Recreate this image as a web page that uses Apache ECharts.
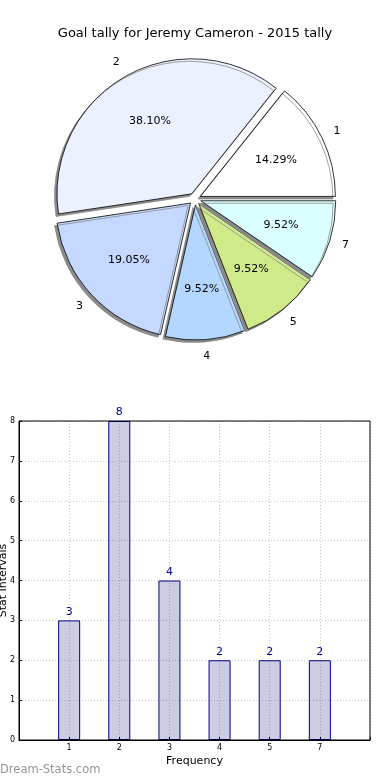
<!DOCTYPE html>
<html><head><meta charset="utf-8">
<script src="https://cdn.jsdelivr.net/npm/echarts@6/dist/echarts.min.js"></script>
<style>html,body{margin:0;padding:0;background:#fff}#c{width:390px;height:780px}</style>
</head><body><div id="c"></div>
<script>
const categories = ['1', '2', '3', '4', '5', '7'];
const goalCounts = [3, 8, 4, 2, 2, 2];
const percentLabels = ['14.29%', '38.10%', '19.05%', '9.52%', '9.52%', '9.52%'];
const sliceColors = ['#ffffff', '#ebf1ff', '#c5d8ff', '#b4d7ff', '#d0ea8a', '#dbffff'];
const yTicks = [0, 1, 2, 3, 4, 5, 6, 7, 8];

const FONT = 'DejaVu Sans';
const R = 135;
const CX = 195, CY = 199;
const OFF = 6;

const pieMain = categories.map((c, i) => ({
  name: c, value: goalCounts[i], selected: true,
  itemStyle: {color: sliceColors[i]}
}));
const pieLabels = categories.map((c, i) => ({name: c, value: goalCounts[i], selected: true}));

const chart = echarts.init(document.getElementById('c'), null, {renderer: 'canvas'});
chart.setOption({
  animation: false,
  title: {
    text: 'Goal tally for Jeremy Cameron - 2015 tally',
    left: 'center', top: 22,
    textStyle: {fontFamily: FONT, fontSize: 13, fontWeight: 'normal', color: '#000'}
  },
  grid: {left: 19, right: 20, top: 421, bottom: 40, containLabel: false, outerBoundsMode: 'none'},
  xAxis: {
    type: 'value', min: 0, max: 7, interval: 1,
    name: 'Frequency', nameLocation: 'middle', nameGap: 16, nameMoveOverlap: false,
    nameTextStyle: {fontFamily: FONT, fontSize: 11, color: '#000'},
    axisLine: {show: true, lineStyle: {color: '#000', width: 1}},
    axisTick: {show: true, inside: true, length: 3, lineStyle: {color: '#000'}},
    axisLabel: {
      fontFamily: FONT, fontSize: 8, color: '#000', margin: 4,
      formatter: v => (v >= 1 && v <= 6) ? categories[v - 1] : ''
    },
    splitLine: {show: true, lineStyle: {color: '#c8c8c8', type: [1, 2], width: 1}}
  },
  yAxis: {
    type: 'value', min: 0, max: 8, interval: 1,
    name: 'Stat Intervals', nameLocation: 'middle', nameGap: 10, nameRotate: 90, nameMoveOverlap: false,
    nameTextStyle: {fontFamily: FONT, fontSize: 11, color: '#000'},
    axisLine: {show: true, lineStyle: {color: '#000', width: 1}},
    axisTick: {show: true, inside: true, length: 3, lineStyle: {color: '#000'}},
    axisLabel: {fontFamily: FONT, fontSize: 8, color: '#000', margin: 4,
      formatter: v => yTicks.includes(v) ? String(v) : ''},
    splitLine: {show: true, lineStyle: {color: '#c8c8c8', type: [1, 2], width: 1}}
  },
  graphic: [
    {type: 'rect', shape: {x: 19, y: 421, width: 351, height: 319}, style: {fill: 'none', stroke: '#000', lineWidth: 1}, z: 10, silent: true},
    {type: 'text', left: 0, top: 764, style: {text: 'Dream-Stats.com', fontFamily: FONT, fontSize: 11.5, fontWeight: 'normal', fill: '#959595'}}
  ],
  series: [
    {
      type: 'pie', center: [CX, CY], radius: [0, R],
      startAngle: 0, clockwise: false,
      selectedMode: 'multiple', selectedOffset: OFF,
      data: pieMain,
      label: {show: false}, labelLine: {show: false},
      itemStyle: {borderColor: '#000', borderWidth: 0.8,
        shadowColor: '#8a8a8a', shadowBlur: 0, shadowOffsetX: -2.5, shadowOffsetY: 2.5},
      emphasis: {disabled: true}, z: 2
    },
    {
      type: 'pie', center: [CX, CY], radius: [R * 0.2, R],
      startAngle: 0, clockwise: false,
      selectedMode: 'multiple', selectedOffset: OFF,
      data: pieLabels.map(d => Object.assign({}, d)),
      itemStyle: {color: 'rgba(0,0,0,0)'},
      label: {show: true, position: 'inside', fontFamily: FONT, fontSize: 11, color: '#000',
        formatter: p => percentLabels[p.dataIndex]},
      labelLine: {show: false}, emphasis: {disabled: true}, silent: true, z: 3
    },
    {
      type: 'pie', center: [CX, CY], radius: [R * 1.0, R * 1.2],
      startAngle: 0, clockwise: false,
      selectedMode: 'multiple', selectedOffset: OFF,
      data: pieLabels.map(d => Object.assign({}, d)),
      itemStyle: {color: 'rgba(0,0,0,0)'},
      label: {show: true, position: 'inside', fontFamily: FONT, fontSize: 11, color: '#000',
        formatter: p => p.name},
      labelLine: {show: false}, emphasis: {disabled: true}, silent: true, z: 3
    },
    {
      type: 'bar',
      data: goalCounts.map((v, i) => [i + 1, v]),
      barWidth: 22,
      itemStyle: {color: 'rgba(0,0,110,0.2)', borderColor: '#000088', borderWidth: 1},
      label: {show: true, position: 'top', distance: 3, fontFamily: FONT, fontSize: 11, color: '#000099'},
      emphasis: {disabled: true}, z: 1
    }
  ]
});
</script></body></html>
